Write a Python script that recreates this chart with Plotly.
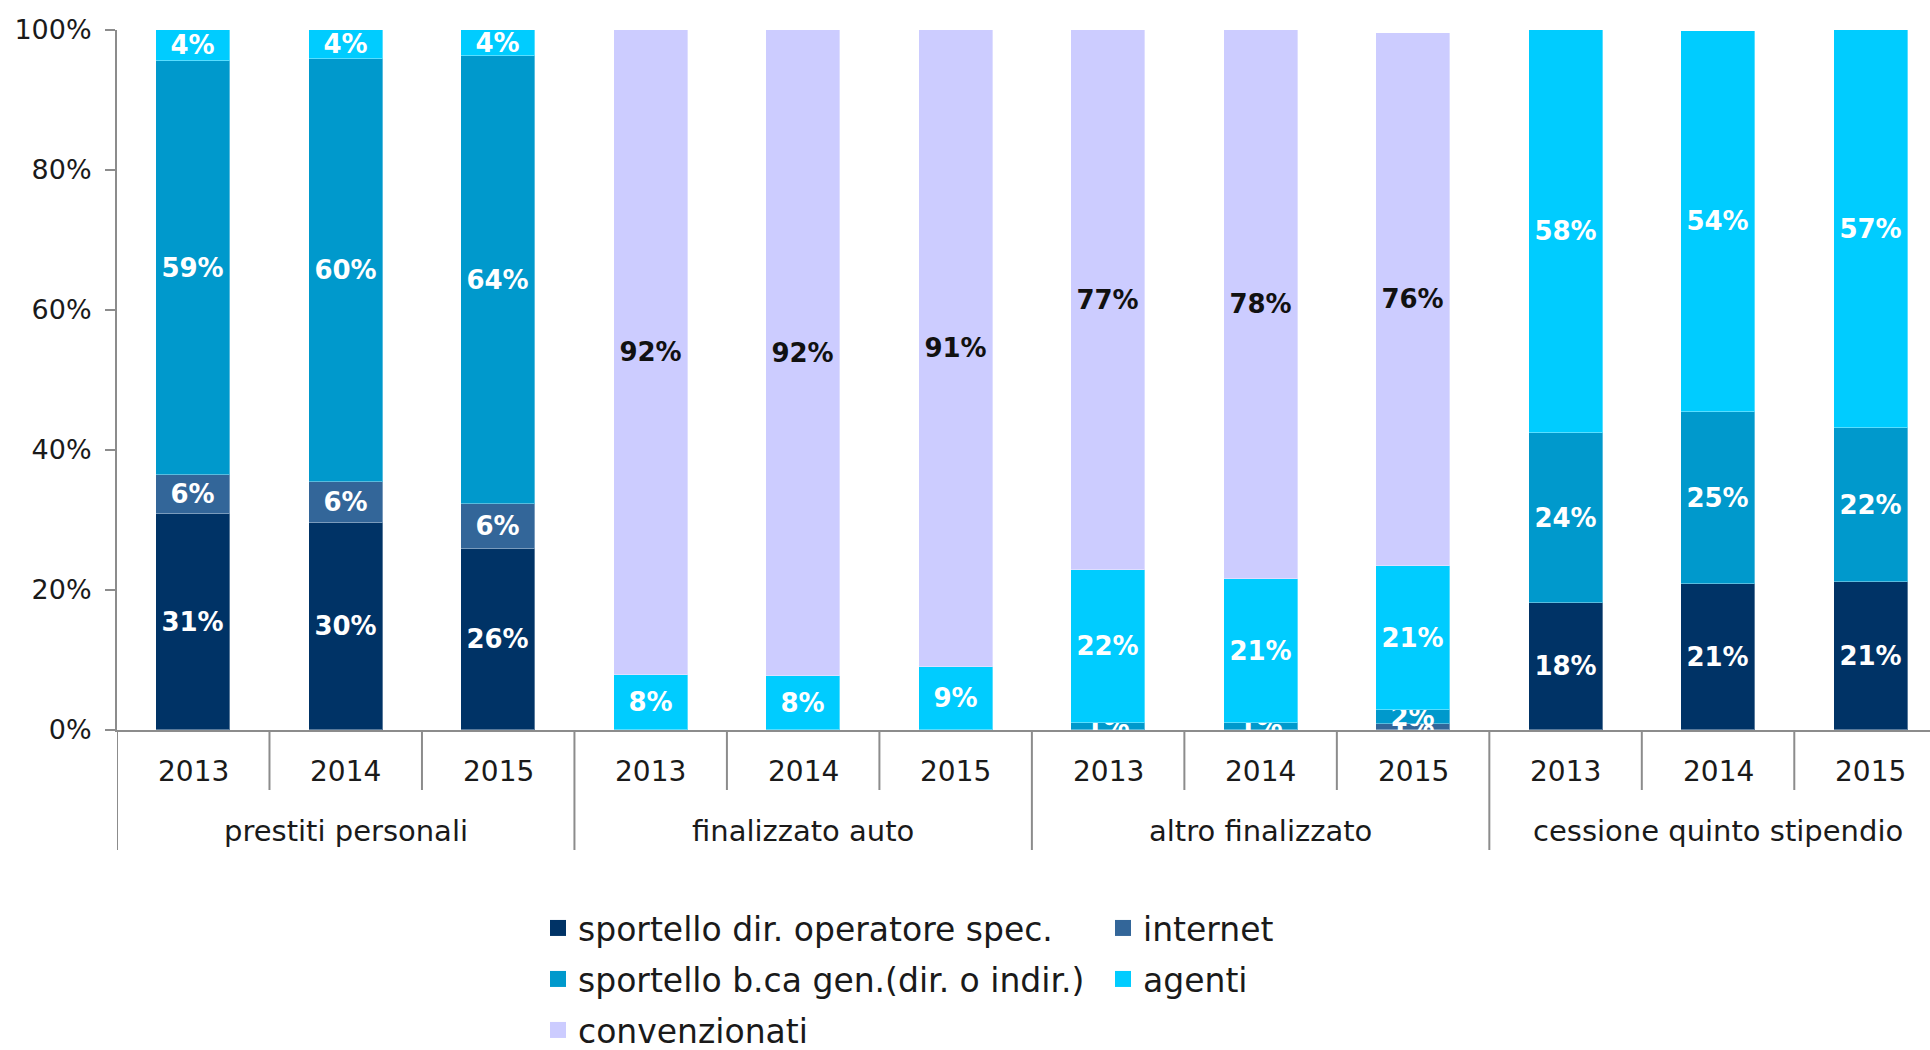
import plotly.graph_objects as go

groups = ["prestiti personali", "finalizzato auto", "altro finalizzato", "cessione quinto stipendio"]
years = ["2013", "2014", "2015"]

series_names = [
    "sportello dir. operatore spec.",
    "internet",
    "sportello b.ca gen.(dir. o indir.)",
    "agenti",
    "convenzionati",
]
# values in % ; order: 4 groups x 3 years
sportello_dir = [30.8, 29.6, 25.8, 0, 0, 0, 0, 0, 0, 18.1, 20.9, 21.1]
internet = [5.6, 5.9, 6.5, 0, 0, 0, 0, 0, 0.9, 0, 0, 0]
sportello_bca = [59.2, 60.3, 64.0, 0, 0, 0, 1.0, 1.0, 2.0, 24.3, 24.6, 22.0]
agenti = [4.4, 4.2, 3.7, 7.9, 7.7, 9.0, 21.8, 20.6, 20.6, 57.6, 54.4, 56.9]
convenzionati = [0, 0, 0, 92.1, 92.3, 91.0, 77.2, 78.4, 76.1, 0, 0, 0]

colors = ["#003366", "#336699", "#0099CC", "#00CCFF", "#CCCCFF"]
text_colors = ["white", "white", "white", "white", "#111111"]

FONT = "DejaVu Sans"
TXT = "#1a1a1a"
x_idx = list(range(len(groups) * len(years)))
year_labels = years * len(groups)

fig = go.Figure()
all_series = [sportello_dir, internet, sportello_bca, agenti, convenzionati]
legend_ids = ["legend", "legend", "legend2", "legend2", "legend3"]
for name, vals, col, tcol in zip(series_names, all_series, colors, text_colors):
    fig.add_trace(go.Bar(
        x=x_idx,
        y=[v / 100 for v in vals],
        name=name,
        marker=dict(color=col, line=dict(color="rgba(255,255,255,0.35)", width=1)),
        width=0.485,
        text=[f"{round(v)}%" if v > 0 else "" for v in vals],
        textposition="inside",
        insidetextanchor="middle",
        constraintext="none",
        textangle=0,
        textfont=dict(family=FONT, size=26, color=tcol, weight="bold"),
        showlegend=False,
        hoverinfo="skip",
    ))

# legend entries (square swatches)
for name, col, lg in zip(series_names, colors, legend_ids):
    fig.add_trace(go.Scatter(
        x=[None], y=[None], mode="markers", name=name,
        marker=dict(symbol="square", size=16, color=col),
        legend=lg, hoverinfo="skip",
    ))

plot_left = 117
plot_w = 1930 - plot_left
plot_h = 1050 - 30 - 320
H = 1050

def py(px_below):
    return -px_below / plot_h

def px_x(px):
    return (px - plot_left) / plot_w

annotations = []
for i, y in enumerate(year_labels):
    annotations.append(dict(x=i, y=0, xref="x", yref="paper", yshift=-41, text=y,
                            showarrow=False, yanchor="middle",
                            font=dict(family=FONT, size=28, color=TXT)))
for g, name in enumerate(groups):
    annotations.append(dict(x=g * 3 + 1, y=0, xref="x", yref="paper", yshift=-101, text=name,
                            showarrow=False, yanchor="middle",
                            font=dict(family=FONT, size=29, color=TXT)))

shapes = []
n = len(x_idx)
for b in range(n + 1):
    xb = b - 0.5
    long = (b % 3 == 0)
    shapes.append(dict(type="line", xref="x", yref="paper", x0=xb, x1=xb,
                       y0=0, y1=py(120 if long else 60),
                       line=dict(color="#8c8c8c", width=2)))

leg_common = dict(orientation="h", xanchor="left", yanchor="middle", yref="container",
                  itemwidth=30, font=dict(family=FONT, size=33, color=TXT),
                  traceorder="normal", bgcolor="rgba(0,0,0,0)")

fig.update_layout(
    width=1930, height=H,
    margin=dict(l=plot_left, r=0, t=30, b=320),
    paper_bgcolor="white", plot_bgcolor="white",
    barmode="stack",
    bargap=0,
    showlegend=True,
    xaxis=dict(range=[-0.5, 11.39], showticklabels=False, ticks="", showgrid=False,
               zeroline=False, showline=True, linecolor="#8c8c8c", linewidth=2),
    yaxis=dict(range=[0, 1], tickvals=[0, 0.2, 0.4, 0.6, 0.8, 1.0], tickformat=".0%",
               showgrid=False, zeroline=False, showline=True, linecolor="#8c8c8c", linewidth=2,
               ticks="outside", ticklen=10, tickcolor="#8c8c8c", tickwidth=2,
               ticklabelstandoff=8,
               tickfont=dict(family=FONT, size=27, color=TXT)),
    annotations=annotations,
    shapes=shapes,
    legend=dict(x=px_x(538), y=1 - 928 / H, entrywidth=520, entrywidthmode="pixels", **leg_common),
    legend2=dict(x=px_x(538), y=1 - 979 / H, entrywidth=520, entrywidthmode="pixels", **leg_common),
    legend3=dict(x=px_x(538), y=1 - 1030 / H, **leg_common),
)

fig.write_html("out.html", config={"displayModeBar": False},
               post_script="document.body.style.margin='0';document.body.style.overflow='hidden';")
